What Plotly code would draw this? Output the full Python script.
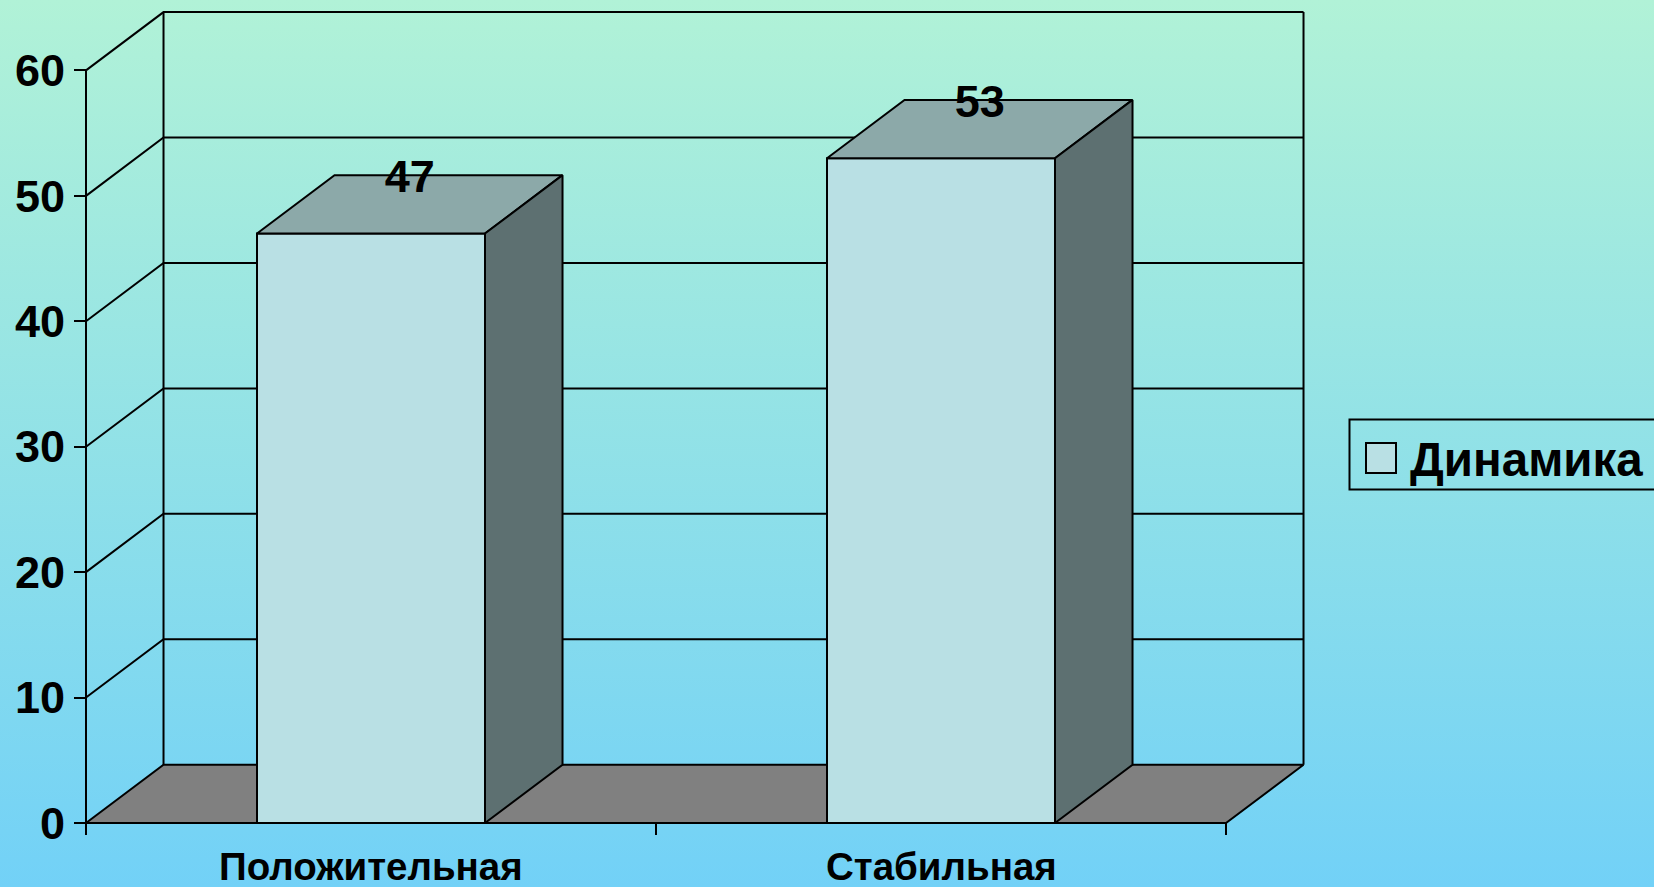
import base64
import plotly.graph_objects as go

# ---------------- data ----------------
categories = ["Положительная", "Стабильная"]
values = [47, 53]
series_name = "Динамика"
y_tick_values = [0, 10, 20, 30, 40, 50, 60]
y_tick_labels = ["0", "10", "20", "30", "40", "50", "60"]

# ---------------- style / geometry ----------------
FIG_W, FIG_H = 1654, 887
PX_PER_X = 570.0      # pixels per category unit
PX_PER_Y = 12.543     # pixels per value unit
TICK_PX = 12
M_L, M_T, M_B = 74, 4, 52
PLOT_RIGHT = 1330
W = PLOT_RIGHT - M_L
M_R = FIG_W - PLOT_RIGHT
H = FIG_H - M_T - M_B
x_lo = -TICK_PX / PX_PER_X
x_hi = x_lo + W / PX_PER_X
y_lo = -TICK_PX / PX_PER_Y
y_hi = y_lo + H / PX_PER_Y

DX, DY = 0.136, 4.65   # 3-D depth offset in data units
BAR_W = 0.4
FONT = "Liberation Sans, Arial, sans-serif"
C_FRONT = "#B9E0E4"
C_TOP = "#8CA9A9"
C_SIDE = "#5D7071"
C_FLOOR = "#808080"
LINE = dict(color="black", width=2)

n = len(categories)
y_top = y_tick_values[-1]


def px_x(X):
    return (X - M_L) / W


def px_y(Y):
    return 1 - (Y - M_T) / H


fig = go.Figure()

# floor
fig.add_trace(go.Scatter(
    x=[0, n, n + DX, DX, 0], y=[0, 0, DY, DY, 0],
    mode="lines", fill="toself", fillcolor=C_FLOOR, line=LINE,
    hoverinfo="skip", showlegend=False))

# walls / gridlines
gx, gy = [], []
for v in y_tick_values:
    if v == 0:
        continue
    gx += [0, DX, n + DX, None]
    gy += [v, v + DY, v + DY, None]
gx += [DX, DX, None, n + DX, n + DX, None, 0, 0, None]
gy += [DY, y_top + DY, None, DY, y_top + DY, None, 0, y_top, None]
fig.add_trace(go.Scatter(x=gx, y=gy, mode="lines", line=LINE,
                         hoverinfo="skip", showlegend=False))

# bars
fx, fy, tx, ty, sx, sy = [], [], [], [], [], []
for i, v in enumerate(values):
    xc = i + 0.5
    x0, x1 = xc - BAR_W / 2, xc + BAR_W / 2
    fx += [x0, x1, x1, x0, x0, None]
    fy += [0, 0, v, v, 0, None]
    tx += [x0, x1, x1 + DX, x0 + DX, x0, None]
    ty += [v, v, v + DY, v + DY, v, None]
    sx += [x1, x1 + DX, x1 + DX, x1, x1, None]
    sy += [0, DY, v + DY, v, 0, None]
for xs, ys, col in [(fx, fy, C_FRONT), (tx, ty, C_TOP), (sx, sy, C_SIDE)]:
    fig.add_trace(go.Scatter(x=xs, y=ys, mode="lines", fill="toself",
                             fillcolor=col, line=LINE, hoverinfo="skip",
                             showlegend=False))

# value labels
fig.add_trace(go.Scatter(
    x=[i + 0.5 + DX / 2 for i in range(n)],
    y=[v + DY - 6 / PX_PER_Y for v in values],
    text=[str(v) for v in values], mode="text", textposition="middle center",
    textfont=dict(family=FONT, size=45, color="black", weight="bold"),
    hoverinfo="skip", showlegend=False, cliponaxis=False))

# category labels
for i, c in enumerate(categories):
    fig.add_annotation(x=i + 0.5, xref="x", y=px_y(866), yref="paper",
                       text=c, showarrow=False, xanchor="center", yanchor="middle",
                       font=dict(family=FONT, size=38.5, color="black", weight="bold"))

# legend (manual)
fig.add_shape(type="rect", xref="paper", yref="paper",
              x0=px_x(1349.5), x1=px_x(1720), y0=px_y(489.5), y1=px_y(419.5),
              line=dict(color="black", width=2), fillcolor="rgba(0,0,0,0)")
fig.add_shape(type="rect", xref="paper", yref="paper",
              x0=px_x(1366), x1=px_x(1396), y0=px_y(473), y1=px_y(443),
              line=dict(color="black", width=2), fillcolor=C_FRONT)
fig.add_annotation(x=px_x(1408), xref="paper", y=px_y(459), yref="paper",
                   text=series_name, showarrow=False, xanchor="left", yanchor="middle",
                   font=dict(family=FONT, size=47.5, color="black", weight="bold"))

# background gradient
svg = ('<svg xmlns="http://www.w3.org/2000/svg" width="100" height="100" '
       'viewBox="0 0 100 100" preserveAspectRatio="none"><defs>'
       '<linearGradient id="g" x1="0" y1="0" x2="0" y2="1">'
       '<stop offset="0" stop-color="#B1F2D7"/><stop offset="1" stop-color="#72D1F7"/>'
       '</linearGradient></defs><rect width="100" height="100" fill="url(#g)"/></svg>')
src = "data:image/svg+xml;base64," + base64.b64encode(svg.encode()).decode()
fig.add_layout_image(source=src, xref="paper", yref="paper",
                     x=-M_L / W, y=1 + M_T / H, sizex=FIG_W / W, sizey=FIG_H / H,
                     xanchor="left", yanchor="top", sizing="stretch", layer="below")

fig.update_layout(
    width=FIG_W, height=FIG_H, autosize=False,
    margin=dict(l=M_L, r=M_R, t=M_T, b=M_B, pad=0),
    paper_bgcolor="#93E2E7", plot_bgcolor="rgba(0,0,0,0)",
    showlegend=False,
    xaxis=dict(range=[x_lo, x_hi], tickvals=list(range(n + 1)),
               ticktext=[""] * (n + 1), ticks="inside", ticklen=TICK_PX,
               tickwidth=2, tickcolor="black", showgrid=False, zeroline=False,
               showline=False, fixedrange=True),
    yaxis=dict(range=[y_lo, y_hi], tickvals=y_tick_values, ticktext=y_tick_labels,
               ticks="inside", ticklen=TICK_PX, tickwidth=2, tickcolor="black",
               showgrid=False, zeroline=False, showline=False, fixedrange=True,
               ticklabelstandoff=8,
               tickfont=dict(family=FONT, size=45, color="black", weight="bold")),
)

fig.write_html("out.html", config={"displayModeBar": False},
               post_script="document.body.style.margin='0';document.body.style.overflow='hidden';")
